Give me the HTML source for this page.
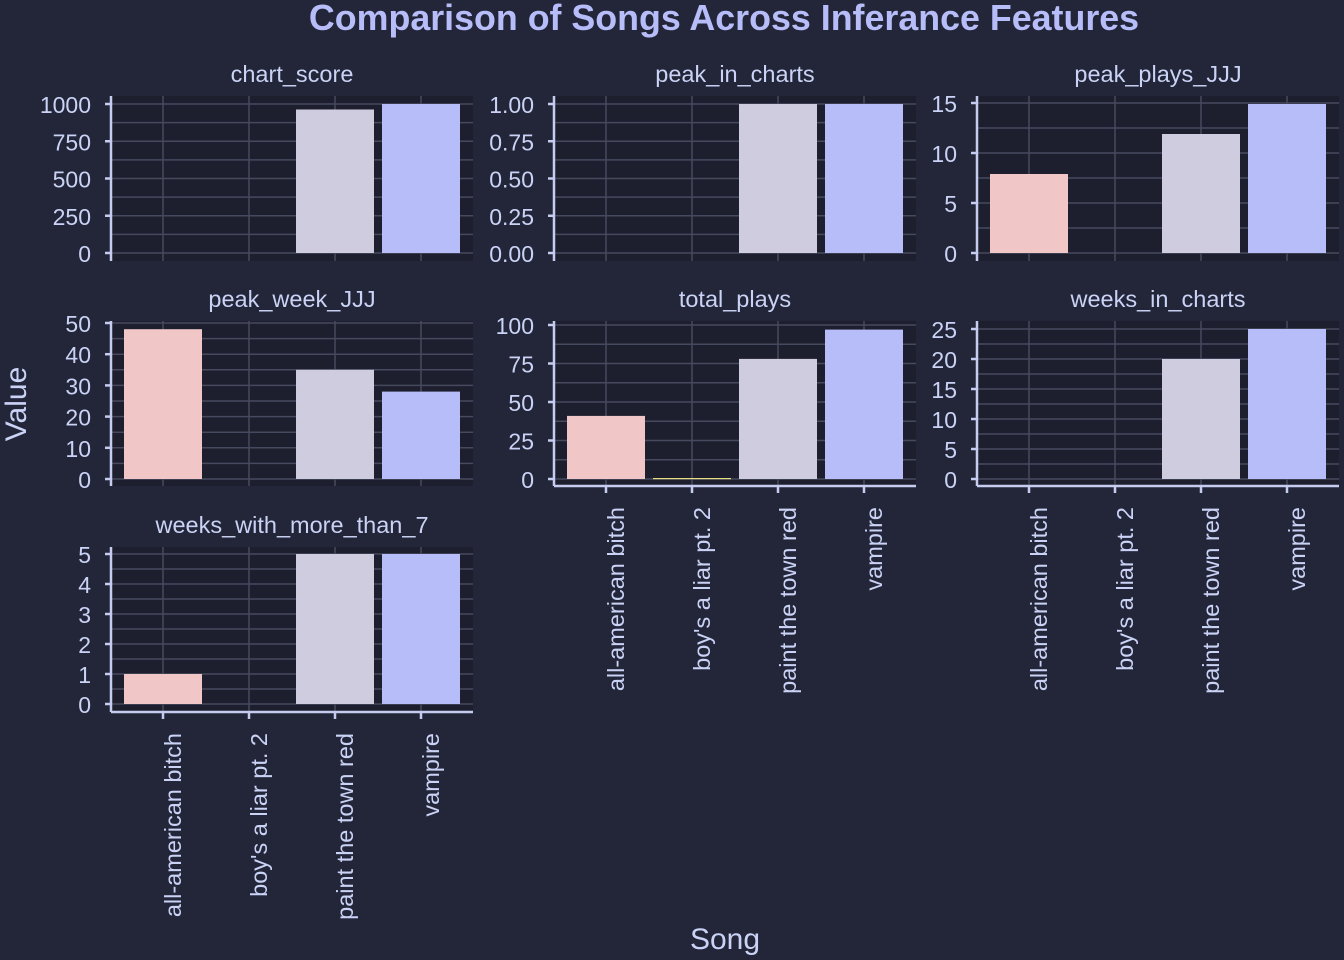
<!DOCTYPE html>
<html><head><meta charset="utf-8"><style>
html,body{margin:0;padding:0;background:#232639;}
svg{display:block;font-family:"Liberation Sans",sans-serif;}
.st{fill:#cad3f5;font-size:23.5px;text-anchor:middle;}
.yl{fill:#cad3f5;font-size:23px;text-anchor:end;dominant-baseline:central;}
.xl{fill:#cad3f5;font-size:23.5px;text-anchor:end;}
.bg{fill:#1e1f2e;}
.g{stroke:#464a5e;stroke-width:1.5;}
.ax{stroke:#c6ccf0;stroke-width:2.5;}
.p{fill:#f0c6c6}.l{fill:#d0cce0}.v{fill:#b7bdf8}
</style></head><body>
<svg width="1344" height="960" viewBox="0 0 1344 960">
<text x="724" y="30" text-anchor="middle" font-size="35.8" font-weight="bold" fill="#b7bdf8">Comparison of Songs Across Inferance Features</text>
<text transform="translate(26,404) rotate(-90)" text-anchor="middle" font-size="30" fill="#cad3f5">Value</text>
<text x="725" y="949" text-anchor="middle" font-size="30" fill="#cad3f5">Song</text>

<!-- Panel A chart_score -->
<g transform="translate(111,96)">
<rect class="bg" x="0" y="0" width="362" height="165"/>
<g class="g"><line x1="52" y1="0" x2="52" y2="165"/><line x1="138" y1="0" x2="138" y2="165"/><line x1="224" y1="0" x2="224" y2="165"/><line x1="310" y1="0" x2="310" y2="165"/>
<line x1="0" x2="362" y1="157" y2="157"/><line x1="0" x2="362" y1="138.4" y2="138.4"/><line x1="0" x2="362" y1="119.75" y2="119.75"/><line x1="0" x2="362" y1="101.1" y2="101.1"/><line x1="0" x2="362" y1="82.5" y2="82.5"/><line x1="0" x2="362" y1="63.9" y2="63.9"/><line x1="0" x2="362" y1="45.25" y2="45.25"/><line x1="0" x2="362" y1="26.6" y2="26.6"/><line x1="0" x2="362" y1="8" y2="8"/></g>
<rect class="l" x="185" y="13.5" width="78" height="143.5"/><rect class="v" x="271" y="8" width="78" height="149"/>
<line class="ax" x1="0" y1="0" x2="0" y2="165"/>
<g class="ax"><line x1="-6" x2="0" y1="157" y2="157"/><line x1="-6" x2="0" y1="119.75" y2="119.75"/><line x1="-6" x2="0" y1="82.5" y2="82.5"/><line x1="-6" x2="0" y1="45.25" y2="45.25"/><line x1="-6" x2="0" y1="8" y2="8"/></g>
<text class="yl" x="-20" y="158">0</text><text class="yl" x="-20" y="120.75">250</text><text class="yl" x="-20" y="83.5">500</text><text class="yl" x="-20" y="46.25">750</text><text class="yl" x="-20" y="9">1000</text>
<text class="st" x="181" y="-14">chart_score</text>
</g>

<!-- Panel B peak_in_charts -->
<g transform="translate(554,96)">
<rect class="bg" x="0" y="0" width="362" height="165"/>
<g class="g"><line x1="52" y1="0" x2="52" y2="165"/><line x1="138" y1="0" x2="138" y2="165"/><line x1="224" y1="0" x2="224" y2="165"/><line x1="310" y1="0" x2="310" y2="165"/>
<line x1="0" x2="362" y1="157" y2="157"/><line x1="0" x2="362" y1="138.4" y2="138.4"/><line x1="0" x2="362" y1="119.75" y2="119.75"/><line x1="0" x2="362" y1="101.1" y2="101.1"/><line x1="0" x2="362" y1="82.5" y2="82.5"/><line x1="0" x2="362" y1="63.9" y2="63.9"/><line x1="0" x2="362" y1="45.25" y2="45.25"/><line x1="0" x2="362" y1="26.6" y2="26.6"/><line x1="0" x2="362" y1="8" y2="8"/></g>
<rect class="l" x="185" y="8" width="78" height="149"/><rect class="v" x="271" y="8" width="78" height="149"/>
<line class="ax" x1="0" y1="0" x2="0" y2="165"/>
<g class="ax"><line x1="-6" x2="0" y1="157" y2="157"/><line x1="-6" x2="0" y1="119.75" y2="119.75"/><line x1="-6" x2="0" y1="82.5" y2="82.5"/><line x1="-6" x2="0" y1="45.25" y2="45.25"/><line x1="-6" x2="0" y1="8" y2="8"/></g>
<text class="yl" x="-20" y="158">0.00</text><text class="yl" x="-20" y="120.75">0.25</text><text class="yl" x="-20" y="83.5">0.50</text><text class="yl" x="-20" y="46.25">0.75</text><text class="yl" x="-20" y="9">1.00</text>
<text class="st" x="181" y="-14">peak_in_charts</text>
</g>

<!-- Panel C peak_plays_JJJ -->
<g transform="translate(977,96)">
<rect class="bg" x="0" y="0" width="362" height="165"/>
<g class="g"><line x1="52" y1="0" x2="52" y2="165"/><line x1="138" y1="0" x2="138" y2="165"/><line x1="224" y1="0" x2="224" y2="165"/><line x1="310" y1="0" x2="310" y2="165"/>
<line x1="0" x2="362" y1="157" y2="157"/><line x1="0" x2="362" y1="132" y2="132"/><line x1="0" x2="362" y1="107" y2="107"/><line x1="0" x2="362" y1="82" y2="82"/><line x1="0" x2="362" y1="57" y2="57"/><line x1="0" x2="362" y1="32" y2="32"/><line x1="0" x2="362" y1="7" y2="7"/></g>
<rect class="p" x="13" y="78" width="78" height="79"/><rect class="l" x="185" y="38" width="78" height="119"/><rect class="v" x="271" y="8" width="78" height="149"/>
<line class="ax" x1="0" y1="0" x2="0" y2="165"/>
<g class="ax"><line x1="-6" x2="0" y1="157" y2="157"/><line x1="-6" x2="0" y1="107" y2="107"/><line x1="-6" x2="0" y1="57" y2="57"/><line x1="-6" x2="0" y1="7" y2="7"/></g>
<text class="yl" x="-20" y="158">0</text><text class="yl" x="-20" y="108">5</text><text class="yl" x="-20" y="58">10</text><text class="yl" x="-20" y="8">15</text>
<text class="st" x="181" y="-14">peak_plays_JJJ</text>
</g>

<!-- Panel D peak_week_JJJ -->
<g transform="translate(111,321)">
<rect class="bg" x="0" y="0" width="362" height="165"/>
<g class="g"><line x1="52" y1="0" x2="52" y2="165"/><line x1="138" y1="0" x2="138" y2="165"/><line x1="224" y1="0" x2="224" y2="165"/><line x1="310" y1="0" x2="310" y2="165"/>
<line x1="0" x2="362" y1="158" y2="158"/><line x1="0" x2="362" y1="142.4" y2="142.4"/><line x1="0" x2="362" y1="126.8" y2="126.8"/><line x1="0" x2="362" y1="111.2" y2="111.2"/><line x1="0" x2="362" y1="95.6" y2="95.6"/><line x1="0" x2="362" y1="80" y2="80"/><line x1="0" x2="362" y1="64.4" y2="64.4"/><line x1="0" x2="362" y1="48.8" y2="48.8"/><line x1="0" x2="362" y1="33.2" y2="33.2"/><line x1="0" x2="362" y1="17.6" y2="17.6"/><line x1="0" x2="362" y1="2" y2="2"/></g>
<rect class="p" x="13" y="8.2" width="78" height="149.8"/><rect class="l" x="185" y="48.8" width="78" height="109.2"/><rect class="v" x="271" y="70.6" width="78" height="87.4"/>
<line class="ax" x1="0" y1="0" x2="0" y2="165"/>
<g class="ax"><line x1="-6" x2="0" y1="158" y2="158"/><line x1="-6" x2="0" y1="126.8" y2="126.8"/><line x1="-6" x2="0" y1="95.6" y2="95.6"/><line x1="-6" x2="0" y1="64.4" y2="64.4"/><line x1="-6" x2="0" y1="33.2" y2="33.2"/><line x1="-6" x2="0" y1="2" y2="2"/></g>
<text class="yl" x="-20" y="159">0</text><text class="yl" x="-20" y="127.8">10</text><text class="yl" x="-20" y="96.6">20</text><text class="yl" x="-20" y="65.4">30</text><text class="yl" x="-20" y="34.2">40</text><text class="yl" x="-20" y="3">50</text>
<text class="st" x="181" y="-14">peak_week_JJJ</text>
</g>

<!-- Panel E total_plays -->
<g transform="translate(554,321)">
<rect class="bg" x="0" y="0" width="362" height="165"/>
<g class="g"><line x1="52" y1="0" x2="52" y2="165"/><line x1="138" y1="0" x2="138" y2="165"/><line x1="224" y1="0" x2="224" y2="165"/><line x1="310" y1="0" x2="310" y2="165"/>
<line x1="0" x2="362" y1="158" y2="158"/><line x1="0" x2="362" y1="138.75" y2="138.75"/><line x1="0" x2="362" y1="119.5" y2="119.5"/><line x1="0" x2="362" y1="100.25" y2="100.25"/><line x1="0" x2="362" y1="81" y2="81"/><line x1="0" x2="362" y1="61.75" y2="61.75"/><line x1="0" x2="362" y1="42.5" y2="42.5"/><line x1="0" x2="362" y1="23.25" y2="23.25"/><line x1="0" x2="362" y1="4" y2="4"/></g>
<rect class="p" x="13" y="94.9" width="78" height="63.1"/><rect x="99" y="157" width="78" height="1.2" fill="#e5df7f"/><rect class="l" x="185" y="37.9" width="78" height="120.1"/><rect class="v" x="271" y="8.6" width="78" height="149.4"/>
<line class="ax" x1="0" y1="0" x2="0" y2="165"/><line class="ax" x1="0" y1="165" x2="362" y2="165"/>
<g class="ax"><line x1="-6" x2="0" y1="158" y2="158"/><line x1="-6" x2="0" y1="119.5" y2="119.5"/><line x1="-6" x2="0" y1="81" y2="81"/><line x1="-6" x2="0" y1="42.5" y2="42.5"/><line x1="-6" x2="0" y1="4" y2="4"/>
<line x1="52" x2="52" y1="165" y2="172"/><line x1="138" x2="138" y1="165" y2="172"/><line x1="224" x2="224" y1="165" y2="172"/><line x1="310" x2="310" y1="165" y2="172"/></g>
<text class="yl" x="-20" y="159">0</text><text class="yl" x="-20" y="120.5">25</text><text class="yl" x="-20" y="82">50</text><text class="yl" x="-20" y="43.5">75</text><text class="yl" x="-20" y="5">100</text>
<text class="xl" transform="translate(70,186) rotate(-90)">all-american bitch</text>
<text class="xl" transform="translate(156,186) rotate(-90)">boy's a liar pt. 2</text>
<text class="xl" transform="translate(242,186) rotate(-90)">paint the town red</text>
<text class="xl" transform="translate(328,186) rotate(-90)">vampire</text>
<text class="st" x="181" y="-14">total_plays</text>
</g>

<!-- Panel F weeks_in_charts -->
<g transform="translate(977,321)">
<rect class="bg" x="0" y="0" width="362" height="165"/>
<g class="g"><line x1="52" y1="0" x2="52" y2="165"/><line x1="138" y1="0" x2="138" y2="165"/><line x1="224" y1="0" x2="224" y2="165"/><line x1="310" y1="0" x2="310" y2="165"/>
<line x1="0" x2="362" y1="158" y2="158"/><line x1="0" x2="362" y1="143" y2="143"/><line x1="0" x2="362" y1="128" y2="128"/><line x1="0" x2="362" y1="113" y2="113"/><line x1="0" x2="362" y1="98" y2="98"/><line x1="0" x2="362" y1="83" y2="83"/><line x1="0" x2="362" y1="68" y2="68"/><line x1="0" x2="362" y1="53" y2="53"/><line x1="0" x2="362" y1="38" y2="38"/><line x1="0" x2="362" y1="23" y2="23"/><line x1="0" x2="362" y1="8" y2="8"/></g>
<rect class="l" x="185" y="38" width="78" height="120"/><rect class="v" x="271" y="8" width="78" height="150"/>
<line class="ax" x1="0" y1="0" x2="0" y2="165"/><line class="ax" x1="0" y1="165" x2="362" y2="165"/>
<g class="ax"><line x1="-6" x2="0" y1="158" y2="158"/><line x1="-6" x2="0" y1="128" y2="128"/><line x1="-6" x2="0" y1="98" y2="98"/><line x1="-6" x2="0" y1="68" y2="68"/><line x1="-6" x2="0" y1="38" y2="38"/><line x1="-6" x2="0" y1="8" y2="8"/>
<line x1="52" x2="52" y1="165" y2="172"/><line x1="138" x2="138" y1="165" y2="172"/><line x1="224" x2="224" y1="165" y2="172"/><line x1="310" x2="310" y1="165" y2="172"/></g>
<text class="yl" x="-20" y="159">0</text><text class="yl" x="-20" y="129">5</text><text class="yl" x="-20" y="99">10</text><text class="yl" x="-20" y="69">15</text><text class="yl" x="-20" y="39">20</text><text class="yl" x="-20" y="9">25</text>
<text class="xl" transform="translate(70,186) rotate(-90)">all-american bitch</text>
<text class="xl" transform="translate(156,186) rotate(-90)">boy's a liar pt. 2</text>
<text class="xl" transform="translate(242,186) rotate(-90)">paint the town red</text>
<text class="xl" transform="translate(328,186) rotate(-90)">vampire</text>
<text class="st" x="181" y="-14">weeks_in_charts</text>
</g>

<!-- Panel G weeks_with_more_than_7 -->
<g transform="translate(111,547)">
<rect class="bg" x="0" y="0" width="362" height="165"/>
<g class="g"><line x1="52" y1="0" x2="52" y2="165"/><line x1="138" y1="0" x2="138" y2="165"/><line x1="224" y1="0" x2="224" y2="165"/><line x1="310" y1="0" x2="310" y2="165"/>
<line x1="0" x2="362" y1="157" y2="157"/><line x1="0" x2="362" y1="142" y2="142"/><line x1="0" x2="362" y1="127" y2="127"/><line x1="0" x2="362" y1="112" y2="112"/><line x1="0" x2="362" y1="97" y2="97"/><line x1="0" x2="362" y1="82" y2="82"/><line x1="0" x2="362" y1="67" y2="67"/><line x1="0" x2="362" y1="52" y2="52"/><line x1="0" x2="362" y1="37" y2="37"/><line x1="0" x2="362" y1="22" y2="22"/><line x1="0" x2="362" y1="7" y2="7"/></g>
<rect class="p" x="13" y="127" width="78" height="30"/><rect class="l" x="185" y="7" width="78" height="150"/><rect class="v" x="271" y="7" width="78" height="150"/>
<line class="ax" x1="0" y1="0" x2="0" y2="165"/><line class="ax" x1="0" y1="165" x2="362" y2="165"/>
<g class="ax"><line x1="-6" x2="0" y1="157" y2="157"/><line x1="-6" x2="0" y1="127" y2="127"/><line x1="-6" x2="0" y1="97" y2="97"/><line x1="-6" x2="0" y1="67" y2="67"/><line x1="-6" x2="0" y1="37" y2="37"/><line x1="-6" x2="0" y1="7" y2="7"/>
<line x1="52" x2="52" y1="165" y2="172"/><line x1="138" x2="138" y1="165" y2="172"/><line x1="224" x2="224" y1="165" y2="172"/><line x1="310" x2="310" y1="165" y2="172"/></g>
<text class="yl" x="-20" y="158">0</text><text class="yl" x="-20" y="128">1</text><text class="yl" x="-20" y="98">2</text><text class="yl" x="-20" y="68">3</text><text class="yl" x="-20" y="38">4</text><text class="yl" x="-20" y="8">5</text>
<text class="xl" transform="translate(70,186) rotate(-90)">all-american bitch</text>
<text class="xl" transform="translate(156,186) rotate(-90)">boy's a liar pt. 2</text>
<text class="xl" transform="translate(242,186) rotate(-90)">paint the town red</text>
<text class="xl" transform="translate(328,186) rotate(-90)">vampire</text>
<text class="st" x="181" y="-14">weeks_with_more_than_7</text>
</g>
</svg>
</body></html>
